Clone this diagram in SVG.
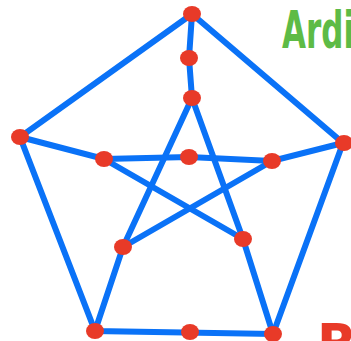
<svg xmlns="http://www.w3.org/2000/svg" width="351" height="341" viewBox="0 0 351 341">
<style>
.e{stroke:#0A72F7;stroke-width:6;stroke-linecap:round;fill:none}
.n{fill:#E83A28}
.t{font-family:"DejaVu Sans Condensed","DejaVu Sans",sans-serif;font-weight:bold}
</style>
<rect width="351" height="351" fill="#fff"/>
<g id="edges">
<path class="e" d="M192,14 L20,137 L95,331 L273,334 L343,143 Z"/>
<path class="e" d="M192,14 L189,58 L192,98"/>
<path class="e" d="M20,137 L104,159 L189,157 L272,161 L343,143"/>
<path class="e" d="M192,98 L123,247 L95,331"/>
<path class="e" d="M192,98 L243,239 L273,334"/>
<path class="e" d="M104,159 L243,239"/>
<path class="e" d="M272,161 L123,247"/>
</g>
<g id="n1"><ellipse class="n" cx="192" cy="14" rx="9" ry="8"/></g>
<g id="n2"><ellipse class="n" cx="189" cy="58" rx="9" ry="8"/></g>
<g id="n3"><ellipse class="n" cx="192" cy="98" rx="9" ry="8"/></g>
<g id="n4"><ellipse class="n" cx="20" cy="137" rx="9" ry="8"/></g>
<g id="n5"><ellipse class="n" cx="344" cy="143" rx="9" ry="8"/></g>
<g id="n6"><ellipse class="n" cx="104" cy="159" rx="9" ry="8"/></g>
<g id="n7"><ellipse class="n" cx="189" cy="157" rx="9" ry="8"/></g>
<g id="n8"><ellipse class="n" cx="272" cy="161" rx="9" ry="8"/></g>
<g id="n9"><ellipse class="n" cx="123" cy="247" rx="9" ry="8"/></g>
<g id="n10"><ellipse class="n" cx="243" cy="239" rx="9" ry="8"/></g>
<g id="n11"><ellipse class="n" cx="95" cy="331" rx="9" ry="8"/></g>
<g id="n12"><ellipse class="n" cx="190" cy="332" rx="9" ry="8"/></g>
<g id="n13"><ellipse class="n" cx="273" cy="334" rx="9" ry="8"/></g>
<text class="t" x="282" y="48" font-size="52" fill="#5DBB46" textLength="72" lengthAdjust="spacingAndGlyphs">Ardi</text>
<text class="t" x="317" y="366" font-size="58" fill="#E83A28">B</text>
</svg>
